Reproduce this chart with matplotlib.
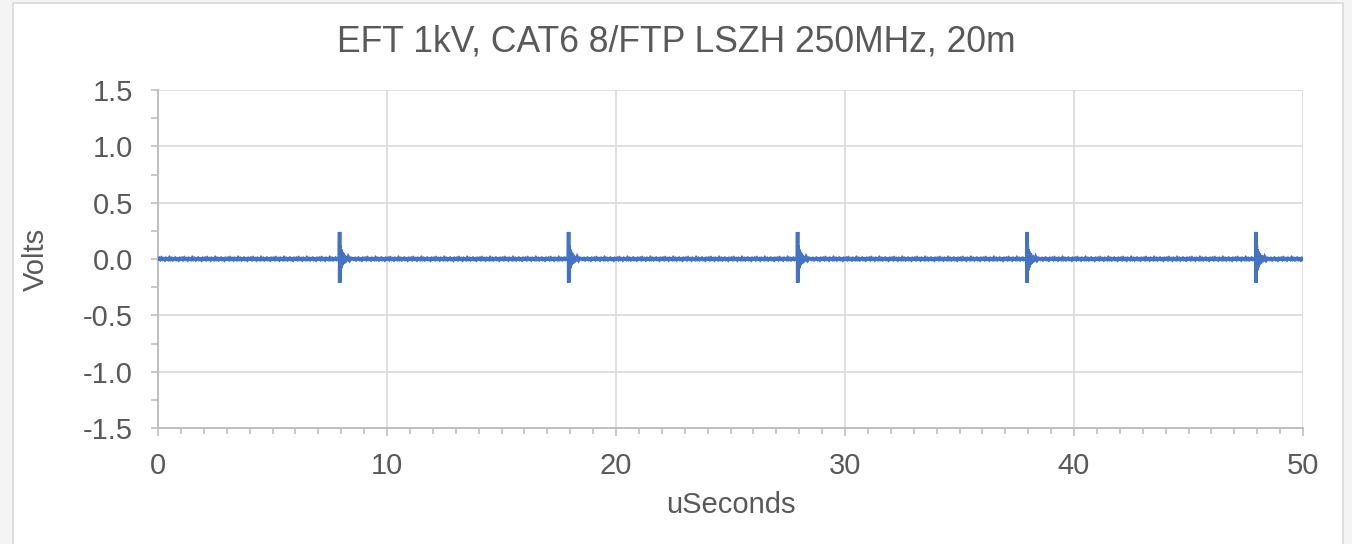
import numpy as np
import matplotlib
matplotlib.use("Agg")
import matplotlib.pyplot as plt
from matplotlib.patches import Rectangle
from matplotlib.ticker import MultipleLocator, FormatStrFormatter

# --- data -------------------------------------------------------------
title = "EFT 1kV, CAT6 8/FTP LSZH 250MHz, 20m"
x_label = "uSeconds"
y_label = "Volts"

# burst arrival times (µs)
burst_times_us = [7.93, 17.93, 27.93, 37.95, 47.95]

# captured shape of one burst: time offset from arrival (µs) and voltage (V)
pulse_offsets_us = [-0.04, -0.01, 0.0, 0.005, 0.01, 0.03, 0.05, 0.07, 0.09,
                    0.11, 0.14, 0.17, 0.20, 0.24, 0.28, 0.33, 0.38, 0.44,
                    0.50, 0.58]
pulse_volts = [0.0, 0.01, 0.24, -0.21, 0.12, -0.10, 0.085, -0.075, 0.065,
               -0.055, 0.05, -0.042, 0.036, -0.03, 0.024, -0.018, 0.014,
               -0.01, 0.006, 0.0]

# residual noise on the baseline (V), one record repeated across the trace
baseline_noise = [0.0, 0.006, -0.004, 0.008, -0.002, 0.003, -0.007, 0.005,
                  0.0, -0.005, 0.009, -0.003, 0.004, -0.006, 0.002, 0.007,
                  -0.004, 0.001, -0.008, 0.005]
sample_step_us = 0.05
x_range = (0, 50)
y_range = (-1.5, 1.5)

# --- assemble trace ---------------------------------------------------
n_base = int(round((x_range[1] - x_range[0]) / sample_step_us)) + 1
t_base = x_range[0] + sample_step_us * np.arange(n_base)
v_base = np.resize(np.array(baseline_noise), n_base)

# drop baseline samples that fall inside a burst window, then merge
keep = np.ones(n_base, dtype=bool)
for tb in burst_times_us:
    keep &= ~((t_base >= tb + pulse_offsets_us[0]) & (t_base <= tb + pulse_offsets_us[-1]))
t_parts = [t_base[keep]]
v_parts = [v_base[keep]]
for tb in burst_times_us:
    t_parts.append(tb + np.array(pulse_offsets_us))
    v_parts.append(np.array(pulse_volts))
t = np.concatenate(t_parts)
v = np.concatenate(v_parts)
order = np.argsort(t, kind="stable")
t, v = t[order], v[order]

# --- figure -----------------------------------------------------------
plt.rcParams["font.family"] = ["Liberation Sans", "DejaVu Sans"]
plt.rcParams["axes.unicode_minus"] = False

W, H = 1352, 544
fig = plt.figure(figsize=(W / 100, H / 100), dpi=100, facecolor="#f4f4f4")
fig.patches.append(Rectangle((13 / W, -0.05), (1343 - 13) / W, 1.05 - 3 / H,
                             transform=fig.transFigure, facecolor="white",
                             edgecolor="#d9d9d9", linewidth=1.2, zorder=-10))

ax = fig.add_axes([158 / W, 1 - 428 / H, (1303 - 158) / W, (428 - 90) / H])
ax.set_zorder(5)
ax.set_facecolor("white")

text_color = "#595959"
grid_color = "#d9d9d9"
axis_color = "#bfbfbf"

ax.plot(t, v, color="#4472c4", linewidth=2.6, solid_joinstyle="miter", zorder=3)

ax.set_xlim(*x_range)
ax.set_ylim(*y_range)
ax.xaxis.set_major_locator(MultipleLocator(10))
ax.xaxis.set_minor_locator(MultipleLocator(1))
ax.yaxis.set_major_locator(MultipleLocator(0.5))
ax.yaxis.set_minor_locator(MultipleLocator(0.25))
ax.yaxis.set_major_formatter(FormatStrFormatter("%.1f"))

ax.grid(True, which="major", color=grid_color, linewidth=1.2, zorder=0)
for side in ("top", "right"):
    ax.spines[side].set_visible(False)
for side in ("left", "bottom"):
    ax.spines[side].set_color(axis_color)
    ax.spines[side].set_linewidth(1.4)

ax.tick_params(axis="both", which="both", color=axis_color, width=1.2,
               labelcolor=text_color, labelsize=21)
ax.tick_params(axis="y", which="both", length=5, pad=13)
ax.tick_params(axis="x", which="major", length=6, pad=11)
ax.tick_params(axis="x", which="minor", length=4.5)

ax.set_xlabel(x_label, fontsize=21, color=text_color, labelpad=8)
ax.set_ylabel(y_label, fontsize=21, color=text_color, labelpad=24)

fig.text(0.5, 1 - 42 / H, title, ha="center", va="center",
         fontsize=25.6, color=text_color, zorder=6)

fig.savefig("out.png", dpi=100, facecolor=fig.get_facecolor())
